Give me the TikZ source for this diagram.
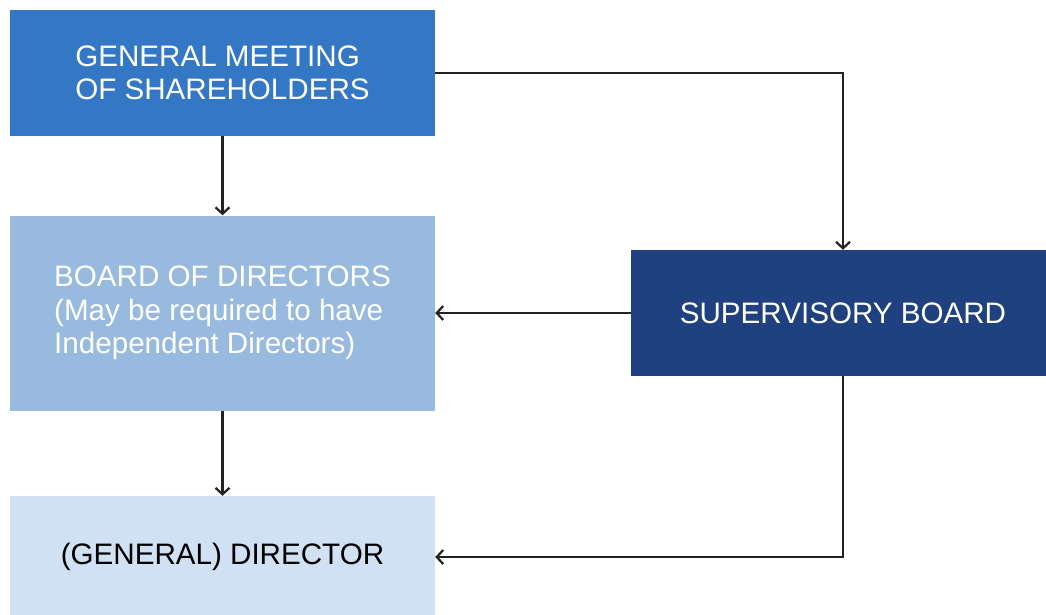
\documentclass[tikz,border=0pt]{standalone}
\usepackage{fontspec}
\setmainfont{Liberation Sans}
\usetikzlibrary{arrows.meta}
\definecolor{meetingblue}{HTML}{3478C5}
\definecolor{boardblue}{HTML}{97BADE}
\definecolor{directorblue}{HTML}{CFE1F3}
\definecolor{supervisoryblue}{HTML}{1F417F}
\definecolor{linegray}{HTML}{222222}

\begin{document}
\begin{tikzpicture}[x=1pt,y=1pt,
    orgbox/.style={rectangle,inner sep=0pt,align=left,
        font=\fontsize{29.6}{33.5}\selectfont},
    link/.style={draw=linegray,line width=2.2pt,
        -{Straight Barb[length=6.5pt,width=14pt,line width=2.2pt]}}]
                \useasboundingbox (0,0) rectangle (1046,-615);
                \node[orgbox,fill=meetingblue,text=white,minimum width=425,minimum height=126] (meeting) at (222.5,-73) {GENERAL MEETING\\OF SHAREHOLDERS};
                \node[orgbox,fill=boardblue,text=white,minimum width=425,minimum height=195] (board) at (222.5,-313) {BOARD OF DIRECTORS\\(May be required to have\\Independent Directors)};
                \node[orgbox,fill=directorblue,text=black,minimum width=425,minimum height=122] (director) at (222.5,-557) {(GENERAL) DIRECTOR};
                \node[orgbox,fill=supervisoryblue,text=white,minimum width=424,minimum height=126] (supervisory) at (843,-313) {SUPERVISORY BOARD};
                \draw[link] (meeting.south) -- (board.north);
                \draw[link] (board.south) -- (director.north);
                \draw[link] (meeting.east) -| (supervisory.north);
                \draw[link] (supervisory.west) -- (board.east);
                \draw[link] (supervisory.south) |- (director.east);
            \end{tikzpicture}
\end{document}
